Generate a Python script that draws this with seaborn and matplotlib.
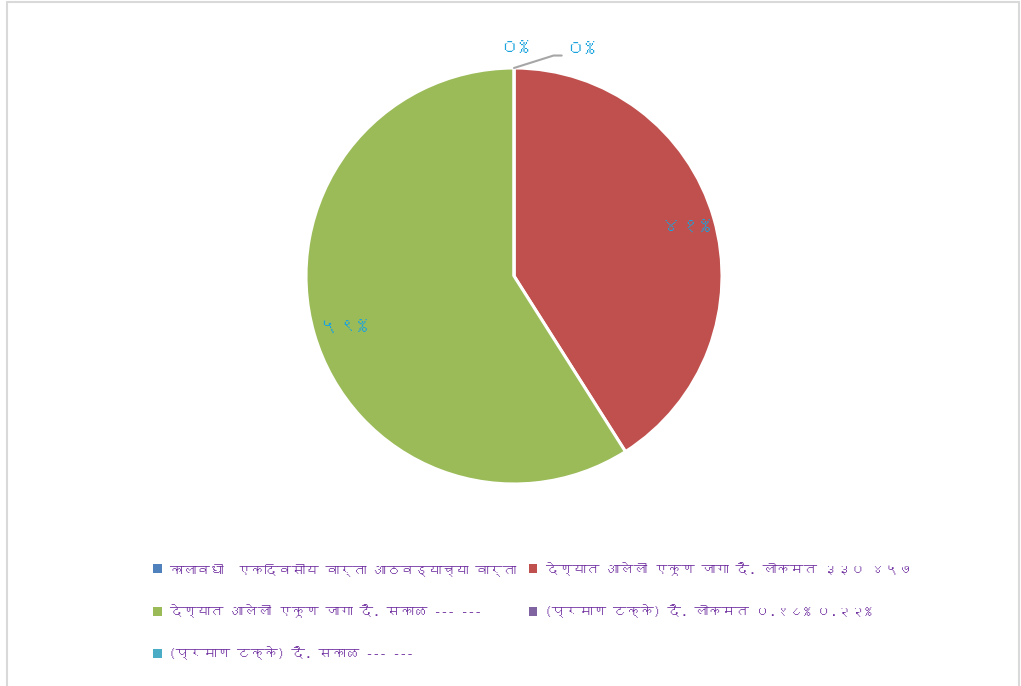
import matplotlib
matplotlib.use("Agg")
import matplotlib.pyplot as plt
import seaborn as sns
import numpy as np
from matplotlib import font_manager
from matplotlib.ft2font import FT2Font
from matplotlib.patches import Rectangle, Patch

# Data
categories = [
    "कालावधी  एकदिवसीय वार्ता आठवड्याच्या वार्ता",
    "देण्यात आलेली एकूण जागा दै. लोकमत ३३० ४५७",
    "देण्यात आलेली एकूण जागा दै. सकाळ --- ---",
    "(प्रमाण टक्के) दै. लोकमत ०.१८% ०.२२%",
    "(प्रमाण टक्के) दै. सकाळ --- ---",
]
shares = [0, 41, 59, 0]  # percent, last category has no value
colors = ["#4F81BD", "#C0504D", "#9BBB59", "#8064A2", "#4BACC6"]

sns.set_theme(style="white")

# find a font that can draw Devanagari, if any is installed
deva = None
for f in font_manager.fontManager.ttflist:
    try:
        if 0x0915 in FT2Font(f.fname).get_charmap():
            deva = f.name
            break
    except Exception:
        pass
plt.rcParams["font.family"] = [deva, "DejaVu Sans"] if deva else ["DejaVu Sans"]

dev_digits = str.maketrans("0123456789", "०१२३४५६७८९")


def pct(v):
    return f"{v:.0f}%".translate(dev_digits)


fig = plt.figure(figsize=(10.21, 6.86), dpi=100)
fig.patches.append(Rectangle((7 / 1021, -0.05), 1012 / 1021, 1.05 - 2 / 686,
                             transform=fig.transFigure, fill=False,
                             edgecolor="#D9D9D9", linewidth=1.5))

ax = fig.add_axes([306 / 1021, (686 - 484) / 686, 416 / 1021, 416 / 686])
wedges, _ = ax.pie(shares, colors=colors[:len(shares)], startangle=90,
                   counterclock=False, radius=1,
                   wedgeprops=dict(edgecolor="white", linewidth=2.2))
ax.set_xlim(-1, 1)
ax.set_ylim(-1, 1)
ax.set_aspect("equal")
ax.axis("off")

lbl_color = "#1AA3DD"
for i, (w, v) in enumerate(zip(wedges, shares)):
    if v > 0:
        ang = np.deg2rad((w.theta1 + w.theta2) / 2)
        ax.text(0.86 * np.cos(ang), 0.86 * np.sin(ang), pct(v), ha="center",
                va="center", color=lbl_color, fontsize=14)
    elif i == 0:
        ax.text(0, 1.10, pct(v), ha="center", va="center", color=lbl_color,
                fontsize=14, fontweight="bold", clip_on=False)
    else:
        ax.annotate(pct(v), xy=(0, 1.0), xytext=(0.245, 1.06),
                    ha="left", va="bottom", color=lbl_color, fontsize=14,
                    annotation_clip=False,
                    arrowprops=dict(arrowstyle="-", color="#A6A6A6", lw=1.5,
                                    connectionstyle="angle,angleA=0,angleB=17.5,rad=0",
                                    relpos=(0, 0), shrinkA=0, shrinkB=0))

handles = [Patch(facecolor=c, edgecolor="none") for c in colors]
order = [0, 2, 4, 1, 3]
fig.legend([handles[i] for i in order], [categories[i] for i in order],
           ncol=2, loc="upper left", bbox_to_anchor=(146 / 1021, 1 - 555 / 686),
           frameon=False, fontsize=9.8, labelcolor="#7030A0",
           handlelength=0.65, handleheight=0.65, handletextpad=0.55,
           columnspacing=0.9, labelspacing=2.1, borderpad=0)

fig.savefig("out.png", dpi=100)
